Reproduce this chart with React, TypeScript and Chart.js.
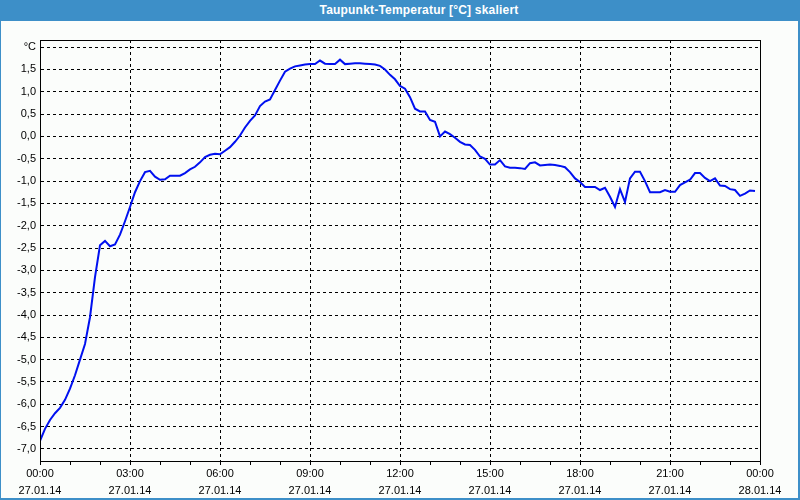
import React, { useEffect, useRef } from "react";
import { Chart, registerables } from "chart.js";

Chart.register(...registerables);

// Dew point readings every 10 minutes (°C), 27.01.14 00:00 – 23:50
const dewPoint00to06 = [
  -6.82, -6.55, -6.35, -6.2, -6.08, -5.9, -5.65, -5.35, -5.0, -4.65, -4.05, -3.15,
  -2.44, -2.34, -2.46, -2.42, -2.2, -1.9, -1.58, -1.25, -1.0, -0.8, -0.77, -0.9,
  -0.97, -0.96, -0.88, -0.88, -0.88, -0.82, -0.74, -0.68, -0.58, -0.46, -0.41, -0.39,
];
const dewPoint06to12 = [
  -0.4, -0.32, -0.24, -0.12, 0.02, 0.2, 0.35, 0.47, 0.68, 0.78, 0.83, 1.04,
  1.25, 1.45, 1.52, 1.57, 1.59, 1.61, 1.62, 1.62, 1.7, 1.63, 1.62, 1.62,
  1.72, 1.62, 1.63, 1.64, 1.64, 1.63, 1.62, 1.61, 1.58, 1.5, 1.38, 1.28,
];
const dewPoint12to18 = [
  1.13, 1.07, 0.88, 0.62, 0.56, 0.56, 0.37, 0.33, 0.0, 0.11, 0.05, -0.03,
  -0.12, -0.18, -0.19, -0.3, -0.45, -0.5, -0.63, -0.63, -0.53, -0.67, -0.7, -0.7,
  -0.71, -0.73, -0.6, -0.58, -0.65, -0.64, -0.63, -0.64, -0.66, -0.69, -0.8, -0.94,
];
const dewPoint18to24 = [
  -1.02, -1.13, -1.13, -1.13, -1.2, -1.15, -1.35, -1.58, -1.18, -1.47, -0.94, -0.79,
  -0.79, -1.0, -1.25, -1.25, -1.25, -1.2, -1.24, -1.24, -1.09, -1.03, -0.97, -0.82,
  -0.82, -0.93, -1.0, -0.94, -1.1, -1.11, -1.18, -1.2, -1.33, -1.28, -1.21, -1.22,
];
const SAMPLE_STEP_MIN = 10;

const xTickTimes = ["00:00", "03:00", "06:00", "09:00", "12:00", "15:00", "18:00", "21:00", "00:00"];
const xTickDates = ["27.01.14", "27.01.14", "27.01.14", "27.01.14", "27.01.14", "27.01.14", "27.01.14", "27.01.14", "28.01.14"];
const yTicks = [-7.0, -6.5, -6.0, -5.5, -5.0, -4.5, -4.0, -3.5, -3.0, -2.5, -2.0, -1.5, -1.0, -0.5, 0.0, 0.5, 1.0, 1.5, 2.0];
const yUnitLabel = "°C";
const titleText = "Taupunkt-Temperatur [°C] skaliert";

const BLUE = "#3d8fc8";
const BG = "#fbfdfb";

export default function App() {
  const canvasRef = useRef<HTMLCanvasElement | null>(null);

  useEffect(() => {
    if (!canvasRef.current) return;
    const values = [...dewPoint00to06, ...dewPoint06to12, ...dewPoint12to18, ...dewPoint18to24];
    const points = values.map((v, i) => ({ x: i * SAMPLE_STEP_MIN, y: v }));

    const framePlugin = {
      id: "frame",
      afterDraw(chart: any) {
        const { ctx, chartArea } = chart;
        ctx.save();
        ctx.strokeStyle = "#000";
        ctx.lineWidth = 1;
        ctx.setLineDash([]);
        ctx.strokeRect(
          Math.round(chartArea.left) + 0.5,
          Math.round(chartArea.top) + 0.5,
          Math.round(chartArea.right - chartArea.left),
          Math.round(chartArea.bottom - chartArea.top)
        );
        ctx.restore();
      },
    };

    const chart = new Chart(canvasRef.current, {
      type: "line",
      data: {
        datasets: [
          {
            data: points,
            borderColor: "#0010f0",
            borderWidth: 2,
            pointRadius: 0,
            tension: 0,
            fill: false,
          },
        ],
      },
      options: {
        animation: false,
        responsive: false,
        maintainAspectRatio: false,
        layout: { padding: { top: 19, right: 38, left: 0, bottom: 0 } },
        plugins: {
          legend: { display: false },
          title: { display: false },
          tooltip: { enabled: false },
        },
        scales: {
          x: {
            type: "linear",
            min: 0,
            max: 1440,
            afterFit: (s: any) => {
              s.height = 37;
            },
            grid: {
              color: (c: any) => (c.tick && c.tick.value % 180 === 0 ? "#000" : "rgba(0,0,0,0)"),
              tickColor: "#000",
              tickLength: 4,
              lineWidth: 1,
              drawTicks: true,
            },
            border: { display: true, color: "#000", dash: [3, 3] },
            ticks: {
              stepSize: 60,
              autoSkip: false,
              maxRotation: 0,
              padding: 1,
              color: "#000",
              font: { family: "Liberation Sans", size: 11, lineHeight: 1.5 },
              callback: (value: any) => {
                const v = Number(value);
                if (v % 180 !== 0) return "";
                const i = v / 180;
                return [xTickTimes[i], xTickDates[i]];
              },
            },
          },
          y: {
            type: "linear",
            min: -7.27,
            max: 2.16,
            afterFit: (s: any) => {
              s.width = 39;
            },
            afterBuildTicks: (s: any) => {
              s.ticks = yTicks.map((v) => ({ value: v }));
            },
            grid: {
              color: "#000",
              lineWidth: 1,
              drawTicks: false,
            },
            border: { display: true, color: "#000", dash: [3, 3] },
            ticks: {
              padding: 4,
              color: "#000",
              font: { family: "Liberation Sans", size: 11 },
              callback: (value: any) => {
                const v = Number(value);
                if (Math.abs(v - 2) < 1e-9) return yUnitLabel;
                return v.toFixed(1).replace(".", ",");
              },
            },
          },
        },
      },
      plugins: [framePlugin],
    });

    return () => chart.destroy();
  }, []);

  return (
    <div
      style={{
        position: "absolute",
        left: 0,
        top: 0,
        width: 800,
        height: 500,
        background: BLUE,
        overflow: "hidden",
      }}
    >
      <div
        style={{
          position: "absolute",
          left: 0,
          top: 0,
          width: 800,
          height: 21,
          lineHeight: "21px",
          boxSizing: "border-box",
          paddingLeft: 38,
          textAlign: "center",
          color: "#fff",
          fontFamily: "Liberation Sans",
          fontWeight: "bold",
          fontSize: 12,
          letterSpacing: "0.2px",
        }}
      >
        {titleText}
      </div>
      <div
        style={{
          position: "absolute",
          left: 1,
          top: 21,
          width: 797,
          height: 477,
          background: BG,
        }}
      >
        <canvas ref={canvasRef} width={797} height={477} style={{ display: "block", width: 797, height: 477 }} />
      </div>
    </div>
  );
}
